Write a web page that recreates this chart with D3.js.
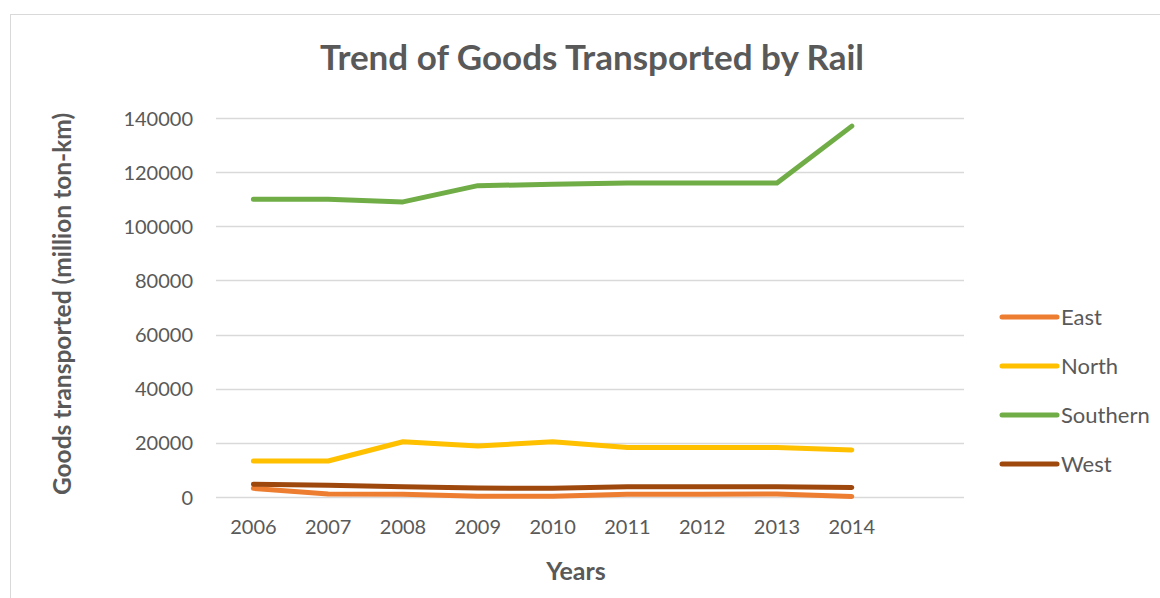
<!DOCTYPE html>
<html>
<head>
<meta charset="utf-8">
<script src="https://cdn.jsdelivr.net/npm/d3@7"></script>
<style>
  html, body { margin: 0; padding: 0; background: #fff; }
  svg { display: block; }
  text { font-family: Lato, "Open Sans", sans-serif; fill: #595959; }
</style>
</head>
<body>
<svg id="chart" width="1160" height="598"></svg>
<script>
// Rail freight by region, million ton-km
const years = ["2006", "2007", "2008", "2009", "2010", "2011", "2012", "2013", "2014"];
const slots = [...years, ""]; // trailing empty category slot on the axis
const east     = [3200, 1100, 1000, 300, 300, 1000, 1000, 1100, 200];
const north    = [13300, 13300, 20400, 18800, 20400, 18300, 18300, 18300, 17400];
const southern = [110000, 110000, 109000, 115000, 115500, 116000, 116000, 116000, 137000];
const west     = [4700, 4300, 3800, 3300, 3200, 3800, 3800, 3800, 3500];
const yTicks   = [0, 20000, 40000, 60000, 80000, 100000, 120000, 140000];

const seriesNames  = ["East", "North", "Southern", "West"];
const seriesValues = [east, north, southern, west];
const colors = ["#ED7D31", "#FFC000", "#70AD47", "#9E480E"];

const svg = d3.select("#chart");

// chart frame
svg.append("rect")
  .attr("x", 10.5).attr("y", 14.5)
  .attr("width", 1200).attr("height", 620)
  .attr("fill", "none").attr("stroke", "#d9d9d9");

const plot = { left: 216, right: 964, top: 118, bottom: 497 };

const x = d3.scaleBand().domain(slots).range([plot.left, plot.right]);
const y = d3.scaleLinear().domain([0, 140000]).range([plot.bottom, plot.top]);

// gridlines
svg.append("g")
  .selectAll("line").data(yTicks).join("line")
  .attr("x1", plot.left).attr("x2", plot.right)
  .attr("y1", d => Math.round(y(d)) + 0.5).attr("y2", d => Math.round(y(d)) + 0.5)
  .attr("stroke", "#d9d9d9").attr("stroke-width", 1.3);

// y axis labels
const yAxis = svg.append("g")
  .attr("transform", `translate(${plot.left - 23},0)`)
  .call(d3.axisLeft(y).tickValues(yTicks).tickFormat(d3.format("d")).tickSize(0).tickPadding(0));
yAxis.select(".domain").remove();
yAxis.selectAll("text")
  .style("font-family", "Lato, 'Open Sans', sans-serif")
  .style("font-size", "20px").attr("fill", "#595959").attr("dy", "0.35em");

// x axis labels
const xAxis = svg.append("g")
  .attr("transform", `translate(0,${plot.bottom + 22})`)
  .call(d3.axisBottom(x).tickSize(0).tickPadding(0));
xAxis.select(".domain").remove();
xAxis.selectAll("text")
  .style("font-family", "Lato, 'Open Sans', sans-serif")
  .style("font-size", "20px").attr("fill", "#595959").attr("dy", "0.75em");

// series lines
const line = d3.line()
  .x((d, i) => x(years[i]) + x.bandwidth() / 2)
  .y(d => y(d));

svg.append("g")
  .selectAll("path").data(seriesValues).join("path")
  .attr("d", d => line(d))
  .attr("fill", "none")
  .attr("stroke", (d, i) => colors[i])
  .attr("stroke-width", 5)
  .attr("stroke-linecap", "round")
  .attr("stroke-linejoin", "round");

// title
svg.append("text")
  .attr("x", 592).attr("y", 70)
  .attr("text-anchor", "middle")
  .style("font-size", "35px").style("font-weight", "bold")
  .text("Trend of Goods Transported by Rail");

// axis titles
svg.append("text")
  .attr("x", 576).attr("y", 580)
  .attr("text-anchor", "middle")
  .style("font-size", "25px").style("font-weight", "bold")
  .text("Years");

svg.append("text")
  .attr("transform", "translate(71,304) rotate(-90)")
  .attr("text-anchor", "middle")
  .style("font-size", "24.5px").style("font-weight", "bold")
  .text("Goods transported (million ton-km)");

// legend
const legend = svg.append("g")
  .selectAll("g").data(seriesNames).join("g")
  .attr("transform", (d, i) => `translate(1002,${317 + i * 49})`);
legend.append("line")
  .attr("x1", 0).attr("x2", 55)
  .attr("stroke", (d, i) => colors[i])
  .attr("stroke-width", 5).attr("stroke-linecap", "round");
legend.append("text")
  .attr("x", 59).attr("dy", "0.35em")
  .style("font-size", "22px")
  .text(d => d);
</script>
</body>
</html>
